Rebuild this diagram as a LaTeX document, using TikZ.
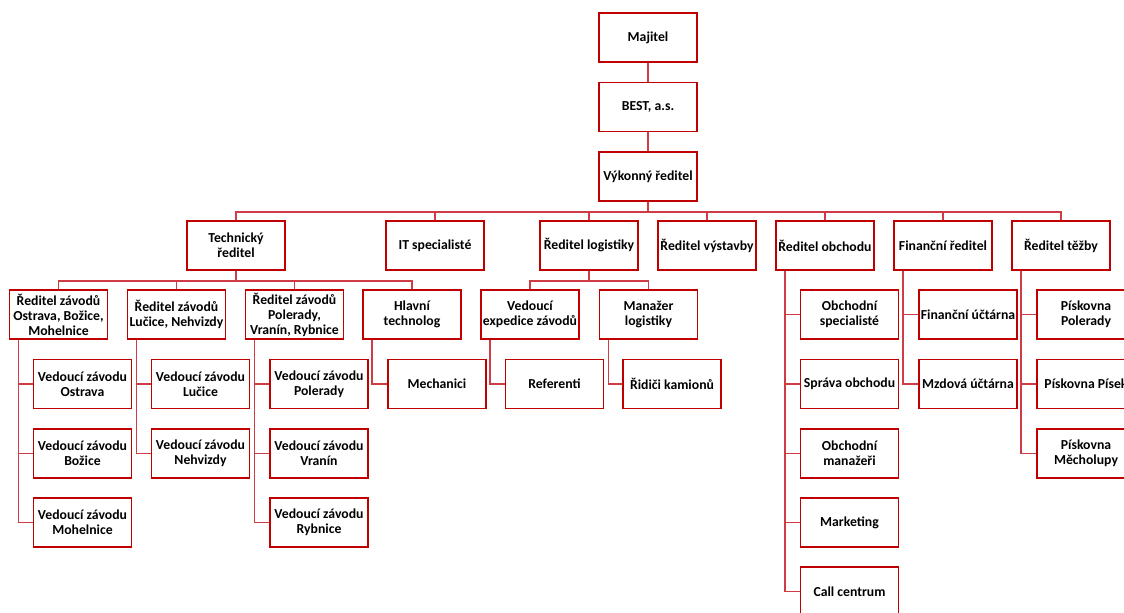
\documentclass[tikz,border=0pt]{standalone}
\usepackage{fontspec}
\setmainfont{Carlito}
\usepackage{tikz}
\usepackage{color}
\definecolor{boxred}{RGB}{192,0,0}
\definecolor{linkred}{RGB}{208,60,70}
\tikzset{
  box/.style={draw=boxred, line width=1.3pt, fill=white, minimum width=73.5pt, minimum height=36.75pt,
    inner sep=0.5pt, align=center, font=\fontsize{10.3}{11.3}\selectfont\bfseries},
  link/.style={draw=linkred, line width=1.2pt}
}
\begin{document}
\begin{tikzpicture}[x=0.75pt,y=0.75pt,yscale=-1,xscale=1]
%set diagram: 1124 x 612
\useasboundingbox (0,0) rectangle (1124,612);
\clip (0,0) rectangle (1124,612);

%Top
\node [box] (maj) at (648,37.5) {Majitel};
\node [box] (best) at (648,107) {BEST, a.s.};
\node [box] (vyk) at (648,176.5) {Výkonný ředitel};

%Level 2
\node [box] (tech) at (236,245.5) {Technický\\ředitel};
\node [box] (it) at (435,245.5) {IT specialisté};
\node [box] (log) at (589,245.5) {Ředitel logistiky};
\node [box] (vys) at (707,245.5) {Ředitel výstavby};
\node [box] (obch) at (825,245.5) {Ředitel obchodu};
\node [box] (fin) at (943,245.5) {Finanční ředitel};
\node [box] (tez) at (1061,245.5) {Ředitel těžby};

%Level 3
\node [box] (ost) at (58.5,314.5) {Ředitel závodů\\Ostrava, Božice,\\Mohelnice};
\node [box] (luc) at (176.5,314.5) {Ředitel závodů\\Lučice, Nehvizdy};
\node [box] (pol) at (294.5,314.5) {Ředitel závodů\\Polerady,\\Vranín, Rybnice};
\node [box] (hlav) at (412,314.5) {Hlavní\\technolog};
\node [box] (exp) at (530,314.5) {Vedoucí\\expedice závodů};
\node [box] (man) at (648.5,314.5) {Manažer\\logistiky};
\node [box] (osp) at (849.5,314.5) {Obchodní\\specialisté};
\node [box] (fuc) at (968,314.5) {Finanční účtárna};
\node [box] (ppol) at (1086,314.5) {Pískovna\\Polerady};

%Level 4
\node [box] (vost) at (82.5,384) {Vedoucí závodu\\Ostrava};
\node [box] (vboz) at (82.5,453.5) {Vedoucí závodu\\Božice};
\node [box] (vmoh) at (82.5,522.5) {Vedoucí závodu\\Mohelnice};
\node [box] (vluc) at (200.5,384) {Vedoucí závodu\\Lučice};
\node [box] (vneh) at (200.5,453.5) {Vedoucí závodu\\Nehvizdy};
\node [box] (vpol) at (319,384) {Vedoucí závodu\\Polerady};
\node [box] (vvra) at (319,453.5) {Vedoucí závodu\\Vranín};
\node [box] (vryb) at (319,522.5) {Vedoucí závodu\\Rybnice};
\node [box] (mech) at (437,384) {Mechanici};
\node [box] (ref) at (554.5,384) {Referenti};
\node [box] (rid) at (672,384) {Řidiči kamionů};
\node [box] (spr) at (849.5,384) {Správa obchodu};
\node [box] (oman) at (849.5,453.5) {Obchodní\\manažeři};
\node [box] (mark) at (849.5,522.5) {Marketing};
\node [box] (call) at (849.5,591.5) {Call centrum};
\node [box] (muc) at (968,384) {Mzdová účtárna};
\node [box] (ppis) at (1086,384) {Pískovna Písek};
\node [box] (pmec) at (1086,453.5) {Pískovna\\Měcholupy};

%Connectors: top
\draw [link] (maj) -- (best);
\draw [link] (best) -- (vyk);
\foreach \c in {tech,it,log,vys,obch,fin,tez}
  \draw [link] (vyk.south) -- ++(0,10) -| (\c.north);
%Connectors: below
\foreach \c in {ost,luc,pol,hlav}
  \draw [link] (tech.south) -- ++(0,10) -| (\c.north);
\foreach \c in {exp,man}
  \draw [link] (log.south) -- ++(0,10) -| (\c.north);
%Connectors: side
\foreach \p/\c in {ost/vost,ost/vboz,ost/vmoh,luc/vluc,luc/vneh,pol/vpol,pol/vvra,pol/vryb,
    hlav/mech,exp/ref,man/rid,obch/osp,obch/spr,obch/oman,obch/mark,obch/call,
    fin/fuc,fin/muc,tez/ppol,tez/ppis,tez/pmec}
  \draw [link] ([xshift=7.5pt]\p.south west) |- (\c.west);

\end{tikzpicture}
\end{document}
